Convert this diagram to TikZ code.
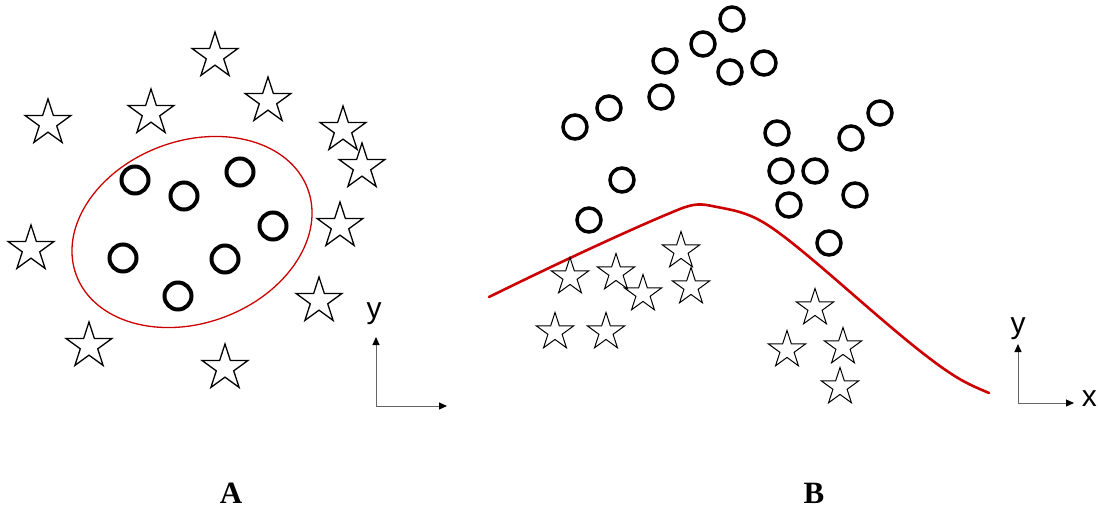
\documentclass[tikz,border=0pt]{standalone}
\usepackage{fontspec}
\setmainfont{Liberation Serif}
\newfontfamily\axisfont{Liberation Sans}
\usetikzlibrary{shapes.geometric,arrows.meta}

\tikzset{
  bigstar/.style={draw=black, line width=1.3pt, star, star points=5,
    star point ratio=2.618, minimum size=48pt, inner sep=0pt},
  smallstar/.style={draw=black, line width=1pt, star, star points=5,
    star point ratio=2.618, minimum size=39pt, inner sep=0pt},
  bigdot/.style={draw=black, line width=4pt, circle, minimum size=27pt, inner sep=0pt},
  smalldot/.style={draw=black, line width=3.5pt, circle, minimum size=24pt, inner sep=0pt},
  boundary/.style={draw={rgb,255:red,204;green,0;blue,0}},
  axisline/.style={draw={rgb,255:red,100;green,100;blue,100}, line width=1pt,
    -{Triangle[length=8pt,width=7pt,color=black]}},
  axislabel/.style={font=\axisfont\fontsize{30}{30}\selectfont, inner sep=0pt},
  panellabel/.style={font=\bfseries\fontsize{31}{31}\selectfont, inner sep=0pt}
}

\begin{document}
\begin{tikzpicture}[x=1pt, y=-1pt]
\useasboundingbox (0,0) rectangle (1098,511);

% ---------- Panel A: one class enclosed by an ellipse ----------
\draw[boundary, line width=1.3pt] (192,232) ellipse [x radius=123.5, y radius=91, rotate=20.4];

\node[bigdot] (ca1) at (135,180) {};
\node[bigdot] (ca2) at (184,196) {};
\node[bigdot] (ca3) at (240,172) {};
\node[bigdot] (ca4) at (273,226) {};
\node[bigdot] (ca5) at (123,258) {};
\node[bigdot] (ca6) at (225,259) {};
\node[bigdot] (ca7) at (178,296) {};

\node[bigstar] (sa1)  at (215,56)  {};
\node[bigstar] (sa2)  at (268,101) {};
\node[bigstar] (sa3)  at (151,113) {};
\node[bigstar] (sa4)  at (48,123)  {};
\node[bigstar] (sa5)  at (343,130) {};
\node[bigstar] (sa6)  at (362,167) {};
\node[bigstar] (sa7)  at (340,226) {};
\node[bigstar] (sa8)  at (31,249)  {};
\node[bigstar] (sa9)  at (319,301) {};
\node[bigstar] (sa10) at (89,346)  {};
\node[bigstar] (sa11) at (225,368) {};

% axes of panel A
\coordinate (oA) at (376,406);
\coordinate (yA) at (376,337);
\coordinate (xA) at (447,406);
\draw[axisline] (oA) -- (yA);
\draw[axisline] (oA) -- (xA);
\node[axislabel] (lyA) at (374,314) {y};

% ---------- Panel B: two classes split by a curve ----------
\draw[boundary, line width=2.6pt, line cap=round]
  (489,297) .. controls (560,262) and (640,225) .. (680,209)
  .. controls (695,203) and (702,204) .. (712,206)
  .. controls (735,210.6) and (750,212) .. (775,230)
  .. controls (820,262) and (900,340) .. (950,373)
  .. controls (965,383) and (975,387) .. (989,393);

\node[smalldot] (cb1)  at (732,19)  {};
\node[smalldot] (cb2)  at (703,44)  {};
\node[smalldot] (cb3)  at (665,61)  {};
\node[smalldot] (cb4)  at (730,72)  {};
\node[smalldot] (cb5)  at (764,63)  {};
\node[smalldot] (cb6)  at (661,97)  {};
\node[smalldot] (cb7)  at (609,108) {};
\node[smalldot] (cb8)  at (575,127) {};
\node[smalldot] (cb9)  at (777,133) {};
\node[smalldot] (cb10) at (880,113) {};
\node[smalldot] (cb11) at (851,138) {};
\node[smalldot] (cb12) at (781,171) {};
\node[smalldot] (cb13) at (815,171) {};
\node[smalldot] (cb14) at (855,195) {};
\node[smalldot] (cb15) at (789,205) {};
\node[smalldot] (cb16) at (622,180) {};
\node[smalldot] (cb17) at (589,220) {};
\node[smalldot] (cb18) at (829,243) {};

\node[smallstar] (sb1)  at (570,277) {};
\node[smallstar] (sb2)  at (616,273) {};
\node[smallstar] (sb3)  at (643,294) {};
\node[smallstar] (sb4)  at (681,251) {};
\node[smallstar] (sb5)  at (691,287) {};
\node[smallstar] (sb6)  at (555,332) {};
\node[smallstar] (sb7)  at (606,332) {};
\node[smallstar] (sb8)  at (815,308) {};
\node[smallstar] (sb9)  at (787,350) {};
\node[smallstar] (sb10) at (843,347) {};
\node[smallstar] (sb11) at (840,387) {};

% axes of panel B
\coordinate (oB) at (1018,403);
\coordinate (yB) at (1018,344);
\coordinate (xB) at (1074,403);
\draw[axisline] (oB) -- (yB);
\draw[axisline] (oB) -- (xB);
\node[axislabel] (lyB) at (1018,329) {y};
\node[axislabel, anchor=east] (lxB) at (1097,399) {x};

% panel captions
\node[panellabel] (capA) at (231,493) {A};
\node[panellabel] (capB) at (814,493) {B};
\end{tikzpicture}
\end{document}
